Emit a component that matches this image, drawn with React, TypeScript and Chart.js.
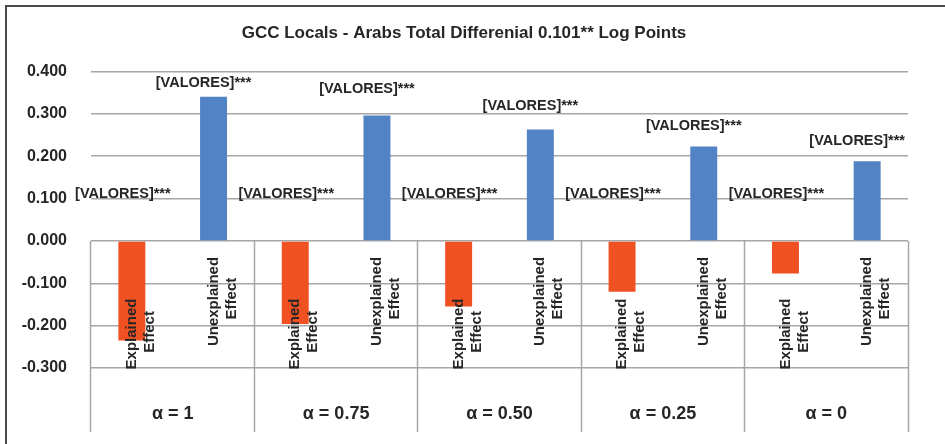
import React, { useEffect, useRef } from "react";
import { Chart, registerables } from "chart.js";

Chart.register(...registerables);

// ---- Data ----
const TITLE = "GCC Locals - Arabs Total Differenial 0.101** Log Points";
const GROUPS = ["α = 1", "α = 0.75", "α = 0.50", "α = 0.25", "α = 0"];
const SUB_CATEGORIES = ["Explained Effect", "Unexplained Effect"];
const EXPLAINED = [-0.235, -0.196, -0.155, -0.12, -0.077];
const UNEXPLAINED = [0.34, 0.296, 0.263, 0.223, 0.188];
const EXPLAINED_LABELS = ["[VALORES]***", "[VALORES]***", "[VALORES]***", "[VALORES]***", "[VALORES]***"];
const UNEXPLAINED_LABELS = ["[VALORES]***", "[VALORES]***", "[VALORES]***", "[VALORES]***", "[VALORES]***"];
const Y_MIN = -0.3;
const Y_MAX = 0.4;
const Y_STEP = 0.1;

// ---- Styles ----
const FONT = "'Liberation Sans', Arial, Helvetica, sans-serif";
const TEXT = "#262626";
const GRID = "#A6A6A6";
const ORANGE = "#F05123";
const BLUE = "#5283C4";
const LABEL_GAP_UNEXPLAINED = [14, 26, 23, 20, 20];

export default function App() {
  const canvasRef = useRef<HTMLCanvasElement | null>(null);

  useEffect(() => {
    const canvas = canvasRef.current;
    if (!canvas) return;

    const labels: string[] = [];
    const explainedData: (number | null)[] = [];
    const unexplainedData: (number | null)[] = [];
    GROUPS.forEach((g, i) => {
      labels.push(SUB_CATEGORIES[0], SUB_CATEGORIES[1]);
      explainedData.push(EXPLAINED[i], null);
      unexplainedData.push(null, UNEXPLAINED[i]);
    });

    const valueLabels = {
      id: "valueLabels",
      afterDatasetsDraw(chart: any) {
        const ctx = chart.ctx;
        const yScale = chart.scales.y;
        const zero = yScale.getPixelForValue(0);
        ctx.save();
        ctx.font = `bold 14.5px ${FONT}`;
        ctx.fillStyle = TEXT;
        ctx.textAlign = "center";
        ctx.textBaseline = "middle";
        chart.getDatasetMeta(0).data.forEach((el: any, i: number) => {
          if (i % 2 !== 0) return;
          const g = i / 2;
          ctx.fillText(EXPLAINED_LABELS[g], el.x - 9, zero - 47);
        });
        chart.getDatasetMeta(1).data.forEach((el: any, i: number) => {
          if (i % 2 !== 1) return;
          const g = (i - 1) / 2;
          ctx.fillText(UNEXPLAINED_LABELS[g], el.x - 10, el.y - LABEL_GAP_UNEXPLAINED[g]);
        });
        ctx.restore();
      },
    };

    const chart = new Chart(canvas, {
      type: "bar",
      data: {
        labels,
        datasets: [
          {
            label: "Explained Effect",
            data: explainedData,
            backgroundColor: ORANGE,
            borderWidth: 0,
            skipNull: true,
            categoryPercentage: 1,
            barPercentage: 0.33,
          },
          {
            label: "Unexplained Effect",
            data: unexplainedData,
            backgroundColor: BLUE,
            borderWidth: 0,
            skipNull: true,
            categoryPercentage: 1,
            barPercentage: 0.33,
          },
        ],
      },
      plugins: [valueLabels],
      options: {
        responsive: false,
        animation: false,
        devicePixelRatio: 1,
        layout: { padding: { left: 20, right: 37, top: 0, bottom: 16 } },
        plugins: {
          legend: { display: false },
          tooltip: { enabled: false },
          title: {
            display: true,
            text: TITLE,
            color: TEXT,
            font: { family: FONT, size: 17, weight: "bold" },
            padding: { top: 23, bottom: 28 },
          },
        },
        scales: {
          y: {
            min: Y_MIN,
            max: Y_MAX,
            afterFit: (s: any) => {
              s.width = 71;
            },
            ticks: {
              stepSize: Y_STEP,
              padding: 24,
              color: TEXT,
              font: { family: FONT, size: 16, weight: "bold" },
              callback: (v: any) => (Math.abs(Number(v)) < 1e-9 ? "0.000" : Number(v).toFixed(3)),
            },
            grid: { color: GRID, lineWidth: 1.5, drawTicks: false },
            border: { display: false },
          },
          x: {
            type: "category",
            position: { y: 0 } as any,
            offset: true,
            grid: { display: false },
            border: { display: false },
            ticks: {
              z: 1,
              autoSkip: false,
              minRotation: 90,
              maxRotation: 90,
              padding: 8,
              color: TEXT,
              font: { family: FONT, size: 15, weight: "bold" },
              callback: (_v: any, idx: number) => {
                const [a, b] = SUB_CATEGORIES[idx % 2].split(" ");
                return idx % 2 === 0
                  ? [a + " ".repeat(10), b + " ".repeat(13)]
                  : [a, b + " ".repeat(5)];
              },
            },
          },
          xSep: {
            type: "category",
            labels: GROUPS,
            position: { y: 0 } as any,
            offset: true,
            grid: {
              offset: true,
              drawOnChartArea: false,
              drawTicks: true,
              tickLength: 191,
              tickColor: GRID,
              tickWidth: 1.5,
            },
            border: { display: false },
            ticks: { display: false },
          },
          xGroup: {
            type: "category",
            labels: GROUPS,
            position: "bottom",
            offset: true,
            afterFit: (s: any) => {
              s.height = 60;
            },
            grid: { display: false },
            border: { display: false },
            ticks: {
              padding: 27,
              color: TEXT,
              font: { family: FONT, size: 18, weight: "bold" },
            },
          },
        },
      } as any,
    });

    return () => chart.destroy();
  }, []);

  return (
    <div
      style={{
        position: "fixed",
        left: 0,
        top: 0,
        width: 945,
        height: 444,
        overflow: "hidden",
        background: "#fff",
      }}
    >
      <canvas ref={canvasRef} width={945} height={444} style={{ position: "absolute", left: 0, top: 0 }} />
      <div
        style={{
          position: "absolute",
          left: 5,
          top: 5,
          width: 980,
          height: 480,
          border: "2px solid #4a4a4a",
          pointerEvents: "none",
        }}
      />
    </div>
  );
}
